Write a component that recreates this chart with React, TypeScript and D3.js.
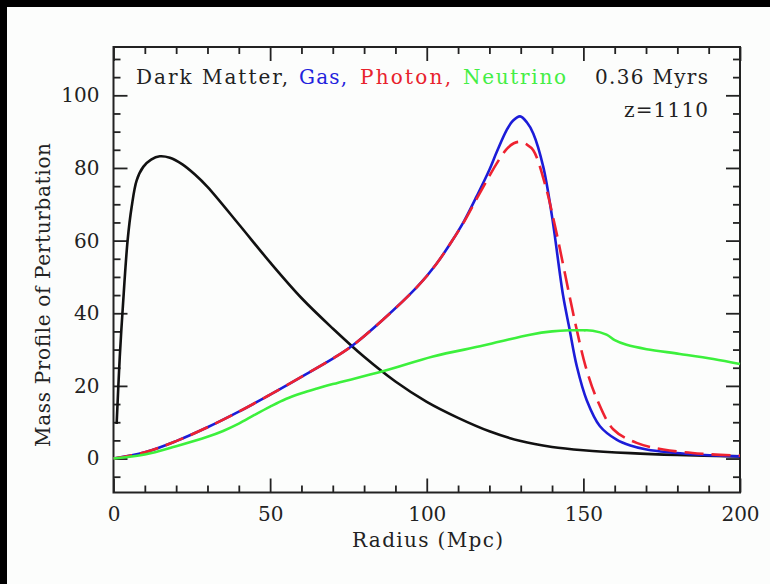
import { useEffect, useRef } from 'react'
import * as d3 from 'd3'

// radius (Mpc) and mass profile values
const darkX = [1, 2, 3, 4.5, 5.8, 7.4, 9.5, 12, 14.8, 18, 22, 26, 30, 40, 50, 60, 70, 80, 90, 100, 110, 120, 130, 140, 150, 165, 180, 200]
const darkY = [9.5, 28, 42, 60, 69.3, 76.6, 80.3, 82.3, 83.2, 82.8, 81.0, 78.2, 74.8, 64.5, 54, 44.2, 35.8, 28, 21.2, 15.6, 11.2, 7.5, 4.8, 3.2, 2.3, 1.5, 1.0, 0.6]

const gasX = [0, 10, 20, 30, 40, 50, 60, 70, 76, 86, 97, 103, 108, 112, 116, 120, 122.3, 125.5, 127.5, 129.8, 132, 134, 137.2, 140, 143.5, 145.5, 147.9, 151.1, 155.3, 160.6, 165, 170.2, 186, 200]
const gasY = [0, 1.7, 4.8, 8.6, 12.9, 17.6, 22.5, 27.5, 30.9, 38.2, 47.3, 53.5, 59.8, 65.5, 72.3, 79.5, 84.3, 90.4, 93, 94.2, 92.5, 89.5, 80.3, 66.6, 45, 36, 25.4, 16, 8.9, 5.2, 3.6, 2.5, 1.1, 0.6]

const photonX = [0, 10, 20, 30, 40, 50, 60, 70, 76, 86, 97, 103, 108, 112, 116, 120, 122.3, 125.5, 127.8, 129.8, 132, 134, 137.7, 141, 144.1, 146, 148, 150.7, 154.4, 159.6, 167, 175.5, 188, 200]
const photonY = [0, 1.7, 4.8, 8.6, 12.9, 17.6, 22.5, 27.5, 30.9, 38.2, 47.3, 53.5, 59.8, 65.3, 71.6, 77.8, 81.2, 85.2, 86.8, 87.2, 86.4, 84.9, 75.7, 63.8, 51, 43, 35, 25.4, 16.2, 8, 4.3, 2.5, 1.3, 0.8]

const neutrinoX = [0, 10, 20, 30, 35, 40, 45, 50, 55, 60, 65, 70, 86, 102, 117, 123.4, 133, 140, 145.7, 150, 153, 157.4, 160, 163.8, 170.2, 180.8, 191.5, 200]
const neutrinoY = [0, 1.1, 3.4, 6.0, 7.6, 9.6, 12.0, 14.3, 16.4, 18.0, 19.3, 20.5, 24, 28.1, 30.9, 32.2, 34.1, 35.0, 35.3, 35.3, 35.2, 34.1, 32.6, 31.3, 30.1, 28.8, 27.4, 26]

const xMajor = [0, 50, 100, 150, 200]
const yMajor = [0, 20, 40, 60, 80, 100]

const font = 'DejaVu Serif'

export default function App() {
  const ref = useRef(null)

  useEffect(() => {
    const width = 770
    const height = 584
    const margin = { top: 47, right: 30, bottom: 91.5, left: 113.5 }

    const svg = d3.select(ref.current)
    svg.selectAll('*').remove()

    // black frame round the page, like the screenshot
    svg.append('rect').attr('width', width).attr('height', height).attr('fill', '#000')
    svg.append('rect').attr('x', 7).attr('y', 7).attr('width', width - 7).attr('height', height - 7).attr('fill', '#fcfdfc')

    const x = d3.scaleLinear().domain([0, 200]).range([margin.left, width - margin.right])
    const y = d3.scaleLinear().domain([-9.35, 113.3]).range([height - margin.bottom, margin.top])

    const xMinor = d3.range(0, 201, 10).filter(v => !xMajor.includes(v))
    const yMinor = d3.range(-5, 111, 5).filter(v => !yMajor.includes(v))

    const styleAxis = (g) => {
      g.select('.domain').remove()
      g.selectAll('line').attr('stroke', '#222').attr('stroke-width', 1.8)
      g.selectAll('text')
        .attr('font-family', font)
        .attr('font-size', 20)
        .attr('fill', '#222')
    }

    const bottom = y.range()[0]
    const top = y.range()[1]
    const left = x.range()[0]
    const right = x.range()[1]

    // bottom
    svg.append('g').attr('transform', `translate(0,${bottom})`)
      .call(d3.axisBottom(x).tickValues(xMajor).tickSize(-14).tickPadding(14).tickFormat(d3.format('d')))
      .call(styleAxis)
    svg.append('g').attr('transform', `translate(0,${bottom})`)
      .call(d3.axisBottom(x).tickValues(xMinor).tickSize(-7).tickFormat(() => ''))
      .call(styleAxis)
    // top
    svg.append('g').attr('transform', `translate(0,${top})`)
      .call(d3.axisTop(x).tickValues(xMajor).tickSize(-14).tickFormat(() => ''))
      .call(styleAxis)
    svg.append('g').attr('transform', `translate(0,${top})`)
      .call(d3.axisTop(x).tickValues(xMinor).tickSize(-7).tickFormat(() => ''))
      .call(styleAxis)
    // left
    svg.append('g').attr('transform', `translate(${left},0)`)
      .call(d3.axisLeft(y).tickValues(yMajor).tickSize(-14).tickPadding(14).tickFormat(d3.format('d')))
      .call(styleAxis)
    svg.append('g').attr('transform', `translate(${left},0)`)
      .call(d3.axisLeft(y).tickValues(yMinor).tickSize(-7).tickFormat(() => ''))
      .call(styleAxis)
    // right
    svg.append('g').attr('transform', `translate(${right},0)`)
      .call(d3.axisRight(y).tickValues(yMajor).tickSize(-14).tickFormat(() => ''))
      .call(styleAxis)
    svg.append('g').attr('transform', `translate(${right},0)`)
      .call(d3.axisRight(y).tickValues(yMinor).tickSize(-7).tickFormat(() => ''))
      .call(styleAxis)

    svg.append('rect')
      .attr('x', left).attr('y', top)
      .attr('width', right - left).attr('height', bottom - top)
      .attr('fill', 'none').attr('stroke', '#222').attr('stroke-width', 2)

    const line = d3.line().x(d => x(d[0])).y(d => y(d[1])).curve(d3.curveCatmullRom.alpha(0.5))
    const series = [
      { xs: darkX, ys: darkY, color: '#111111', dash: null },
      { xs: gasX, ys: gasY, color: '#1c1cd8', dash: null },
      { xs: photonX, ys: photonY, color: '#ee2230', dash: '19 8' },
      { xs: neutrinoX, ys: neutrinoY, color: '#3cf03c', dash: null }
    ]
    series.forEach(s => {
      svg.append('path')
        .datum(s.xs.map((v, i) => [v, s.ys[i]]))
        .attr('d', line)
        .attr('fill', 'none')
        .attr('stroke', s.color)
        .attr('stroke-width', 2.6)
        .attr('stroke-linejoin', 'round')
        .attr('stroke-dasharray', s.dash)
    })

    // key line and labels
    const labels = [
      { text: 'Dark Matter,', x: 136, y: 84, len: 152, color: '#222' },
      { text: 'Gas,', x: 299, y: 84, len: 48, color: '#2222dd' },
      { text: 'Photon,', x: 360, y: 84, len: 91, color: '#e8222c' },
      { text: 'Neutrino', x: 463, y: 84, len: 103, color: '#44ee44' },
      { text: '0.36 Myrs', x: 595, y: 84, len: 113, color: '#222' },
      { text: 'z=1110', x: 624, y: 117, len: 84, color: '#222' }
    ]
    labels.forEach(l => {
      svg.append('text')
        .attr('x', l.x).attr('y', l.y)
        .attr('font-family', font).attr('font-size', 20)
        .attr('fill', l.color)
        .attr('textLength', l.len).attr('lengthAdjust', 'spacing')
        .text(l.text)
    })

    svg.append('text')
      .attr('x', 427.5).attr('y', 547)
      .attr('text-anchor', 'middle')
      .attr('font-family', font).attr('font-size', 20).attr('fill', '#222')
      .attr('textLength', 151).attr('lengthAdjust', 'spacing')
      .text('Radius (Mpc)')

    svg.append('text')
      .attr('transform', 'translate(50,295) rotate(-90)')
      .attr('text-anchor', 'middle')
      .attr('font-family', font).attr('font-size', 20).attr('fill', '#222')
      .attr('textLength', 304).attr('lengthAdjust', 'spacing')
      .text('Mass Profile of Perturbation')
  }, [])

  return (
    <svg ref={ref} width={770} height={584} style={{ position: 'absolute', left: 0, top: 0 }} />
  )
}
